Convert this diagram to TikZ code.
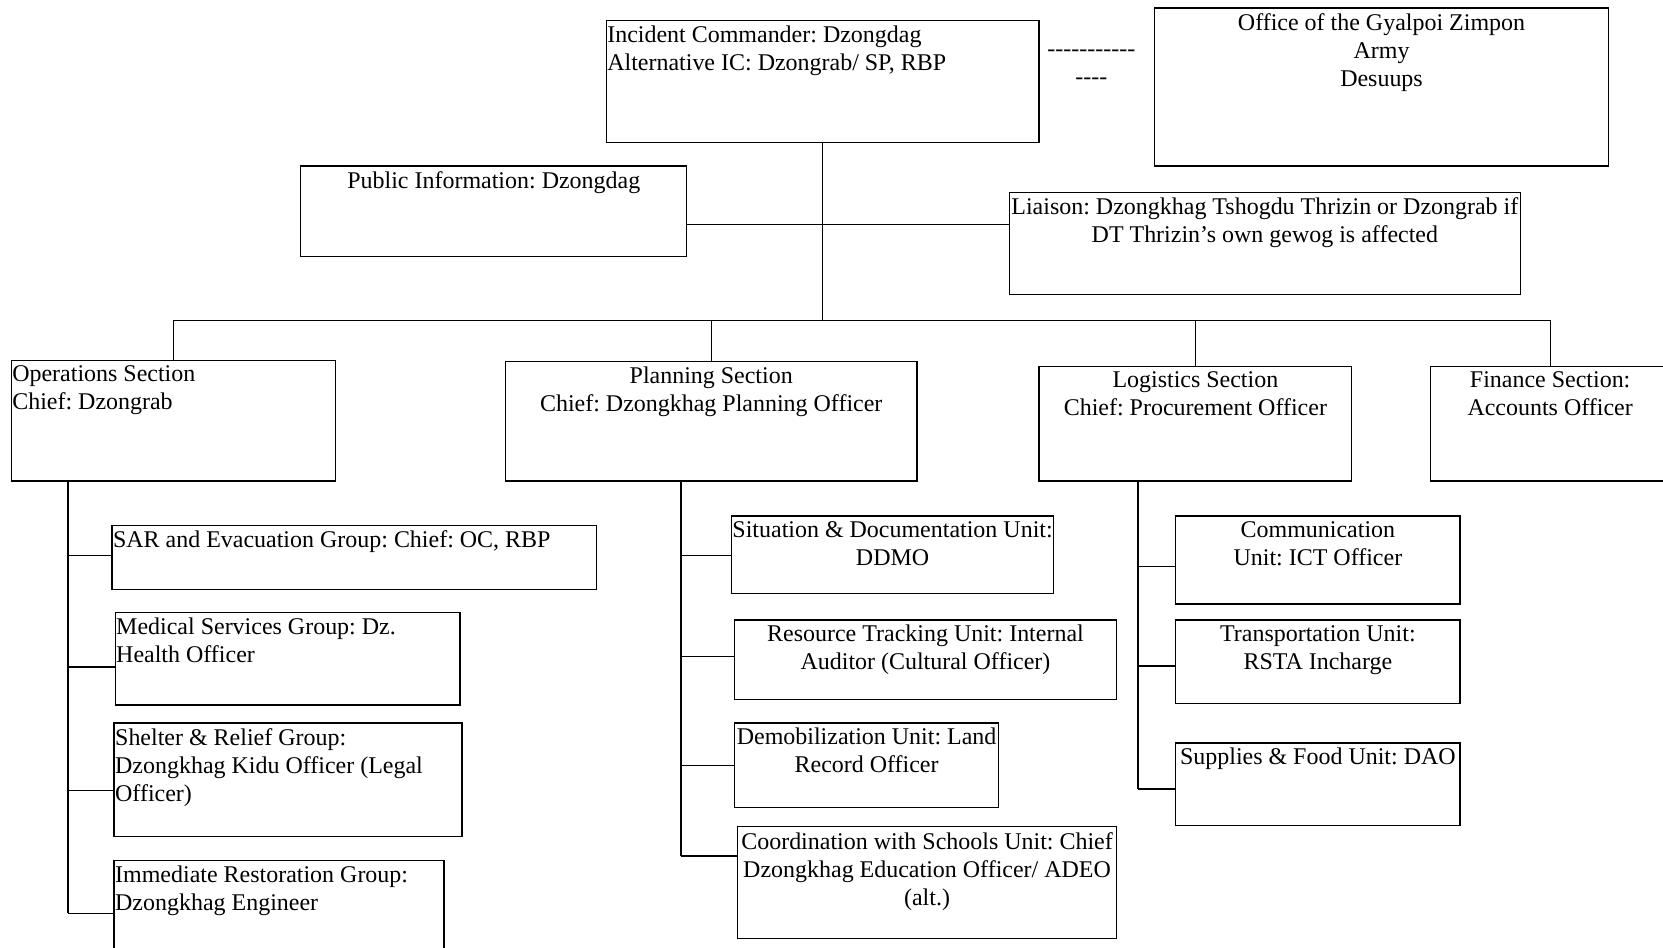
\documentclass[tikz,border=0pt]{standalone}
\usepackage{fontspec}
\setmainfont{Liberation Serif}
\begin{document}
\frenchspacing
% one unit = 0.5pt; y grows downwards
\begin{tikzpicture}[x=0.5pt,y=-0.5pt,
  every node/.style={font=\fontsize{11.3}{13.2}\selectfont},
  orgbox/.style={draw, line width=0.6pt, inner xsep=0.5pt, inner ysep=2.5pt, anchor=north west},
  link/.style={line width=0.6pt}]
\clip (0,0) rectangle (1568,893);
\fill[white] (0,0) rectangle (1568,893);

% name, left, top, width, height, alignment, text
\newcommand\orgbox[7]{%
  \node[orgbox] (#1) at (#2,#3)
    {\parbox[c][\dimexpr #5pt/2-5pt\relax][t]{\dimexpr #4pt/2-1pt\relax}{#6#7}};}

% command level
\orgbox{ic}{571}{19}{408}{115}{\raggedright}{Incident Commander: Dzongdag\\Alternative IC: Dzongrab/ SP, RBP}
\orgbox{office}{1088}{7}{428}{149}{\centering}{Office of the Gyalpoi Zimpon\\Army\\Desuups}
\node[inner sep=0pt, align=center] (dash) at (1029,63) {-{}-{}-{}-{}-{}-{}-{}-{}-{}-{}-\\-{}-{}-{}-};
\orgbox{pi}{283}{156}{364}{85}{\centering}{Public Information: Dzongdag}
\orgbox{lia}{951}{181}{482}{96}{\centering}{\mbox{Liaison: Dzongkhag Tshogdu Thrizin or Dzongrab if}\\DT Thrizin’s own gewog is affected}

% sections
\orgbox{ops}{10}{339}{306}{114}{\raggedright}{Operations Section\\Chief: Dzongrab}
\orgbox{plan}{476}{340}{388}{113}{\centering}{Planning Section\\Chief: Dzongkhag Planning Officer}
\orgbox{log}{979}{345}{295}{108}{\centering}{Logistics Section\\Chief: Procurement Officer}
\orgbox{fin}{1348}{345}{226}{108}{\centering}{Finance Section:\\Accounts Officer}

% operations groups
\orgbox{sar}{105}{495}{457}{60}{\raggedright}{SAR and Evacuation Group: Chief: OC, RBP}
\orgbox{med}{108}{577}{325}{87}{\raggedright}{Medical Services Group: Dz.\\Health Officer}
\orgbox{shel}{107}{681}{328}{107}{\raggedright}{Shelter \& Relief Group:\\Dzongkhag Kidu Officer (Legal\\Officer)}
\orgbox{imm}{107}{811}{311}{110}{\raggedright}{Immediate Restoration Group:\\Dzongkhag Engineer}

% planning units
\orgbox{sit}{689}{486}{304}{73}{\centering}{\mbox{Situation \& Documentation Unit:}\\DDMO}
\orgbox{res}{692}{584}{360}{75}{\centering}{Resource Tracking Unit: Internal\\Auditor (Cultural Officer)}
\orgbox{dem}{692}{681}{249}{80}{\centering}{\mbox{Demobilization Unit: Land}\\Record Officer}
\orgbox{coo}{695}{779}{357}{105}{\centering}{\mbox{Coordination with Schools Unit: Chief}\\\mbox{Dzongkhag Education Officer/ ADEO}\\(alt.)}

% logistics units
\orgbox{com}{1108}{486}{268}{83}{\centering}{Communication\\Unit: ICT Officer}
\orgbox{tra}{1108}{584}{268}{79}{\centering}{Transportation Unit:\\RSTA Incharge}
\orgbox{sup}{1108}{700}{268}{78}{\centering}{Supplies \& Food Unit: DAO}

% junction points
\coordinate (bus) at (775,302);
\coordinate (staff) at (775,212);
\coordinate (opsS) at (64,453);
\coordinate (planS) at (642,453);
\coordinate (logS) at (1073,453);

% command links
\draw[link] (ic.south) -- (ic.south |- bus);
\draw[link] (pi.east |- staff) -- (lia.west |- staff);
\draw[link] (ops.north |- bus) -- (fin.north |- bus);
\foreach \s in {ops,plan,log,fin}
  \draw[link] (\s.north) -- (\s.north |- bus);

% operations spine
\draw[link] (opsS) -- (64,861);
\draw[link] (64,524) -- (sar.west |- 64,524);
\draw[link] (64,629) -- (med.west |- 64,629);
\draw[link] (64,745) -- (shel.west |- 64,745);
\draw[link] (64,861) -- (imm.west |- 64,861);

% planning spine
\draw[link] (planS) -- (642,807);
\draw[link] (642,524) -- (sit.west |- 642,524);
\draw[link] (642,619) -- (res.west |- 642,619);
\draw[link] (642,722) -- (dem.west |- 642,722);
\draw[link] (642,807) -- (coo.west |- 642,807);

% logistics spine
\draw[link] (logS) -- (1073,744);
\draw[link] (1073,534) -- (com.west |- 1073,534);
\draw[link] (1073,628) -- (tra.west |- 1073,628);
\draw[link] (1073,744) -- (sup.west |- 1073,744);
\end{tikzpicture}
\end{document}
